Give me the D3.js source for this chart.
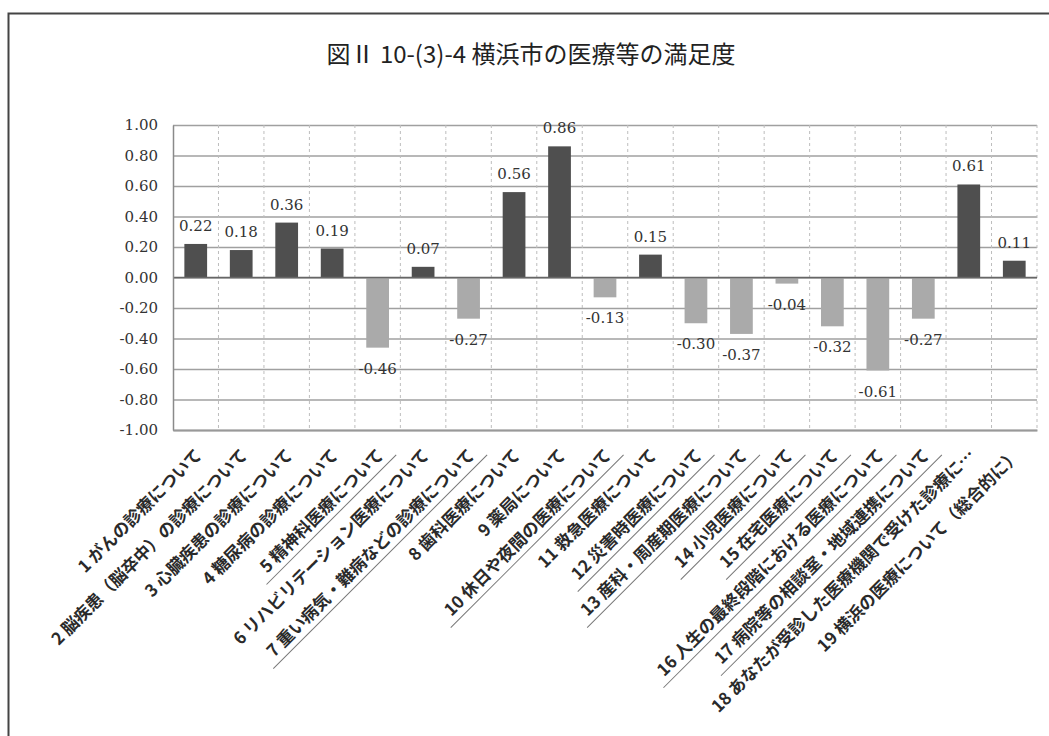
<!DOCTYPE html>
<html>
<head>
<meta charset="utf-8">
<script src="https://cdn.jsdelivr.net/npm/d3@7"></script>
<style>
  body { margin: 0; background: #fff; }
  svg { display: block; }
</style>
</head>
<body>
<svg id="chart" width="1049" height="736"></svg>
<script>
// 図Ⅱ 10-(3)-4 横浜市の医療等の満足度
var title = "図Ⅱ 10-(3)-4 横浜市の医療等の満足度";

var categories = [
  "1 がんの診療について",
  "2 脳疾患（脳卒中）の診療について",
  "3 心臓疾患の診療について",
  "4 糖尿病の診療について",
  "5 精神科医療について",
  "6 リハビリテーション医療について",
  "7 重い病気・難病などの診療について",
  "8 歯科医療について",
  "9 薬局について",
  "10 休日や夜間の医療について",
  "11 救急医療について",
  "12 災害時医療について",
  "13 産科・周産期医療について",
  "14 小児医療について",
  "15 在宅医療について",
  "16 人生の最終段階における医療について",
  "17 病院等の相談室・地域連携について",
  "18 あなたが受診した医療機関で受けた診療に…",
  "19 横浜の医療について（総合的に）"
];

var values = [0.22, 0.18, 0.36, 0.19, -0.46, 0.07, -0.27, 0.56, 0.86, -0.13,
              0.15, -0.30, -0.37, -0.04, -0.32, -0.61, -0.27, 0.61, 0.11];

var yTicks = [1.0, 0.8, 0.6, 0.4, 0.2, 0.0, -0.2, -0.4, -0.6, -0.8, -1.0];

var data = categories.map(function(c, i) { return { name: c, value: values[i] }; });

var svg = d3.select("#chart");
var margin = { left: 173, right: 12, top: 125, bottom: 306 };
var width = 1049, height = 736;

// hyphen minus like the original (d3 uses U+2212 by default)
var fmt = d3.formatLocale({ decimal: ".", thousands: ",", grouping: [3], currency: ["", ""], minus: "-" }).format(".2f");

var x = d3.scaleBand()
    .domain(categories)
    .range([margin.left, width - margin.right])
    .paddingInner(0.5)
    .paddingOuter(0.25);

var y = d3.scaleLinear()
    .domain([-1, 1])
    .range([height - margin.bottom, margin.top]);

// outer frame, runs off the right and bottom edge
svg.append("rect")
    .attr("x", 8.5).attr("y", 13.5)
    .attr("width", 1100).attr("height", 800)
    .attr("fill", "none")
    .attr("stroke", "#444")
    .attr("stroke-width", 2);

svg.append("text")
    .attr("x", 531)
    .attr("y", 52)
    .attr("text-anchor", "middle")
    .attr("dominant-baseline", "central")
    .attr("font-family", "'Noto Sans CJK JP', sans-serif")
    .attr("font-size", "24px")
    .attr("fill", "#222")
    .text(title);

// horizontal grid
svg.append("g")
    .attr("transform", "translate(" + margin.left + ",0)")
    .call(d3.axisLeft(y).tickValues(yTicks).tickSize(-(width - margin.left - margin.right)).tickFormat(""))
    .call(function(g) {
        g.select(".domain").remove();
        g.selectAll("line").attr("stroke", "#a0a0a0").attr("stroke-width", 1.5);
    });

// vertical dashed grid at category boundaries
var step = x.step();
svg.append("g")
    .selectAll("line")
    .data(categories)
    .enter()
    .append("line")
    .attr("x1", function(d) { return x(d) - step * 0.25 + step; })
    .attr("x2", function(d) { return x(d) - step * 0.25 + step; })
    .attr("y1", y(1))
    .attr("y2", y(-1))
    .attr("stroke", "#bdbdbd")
    .attr("stroke-dasharray", "3,3");

// bars
svg.append("g")
    .selectAll("rect")
    .data(data)
    .enter()
    .append("rect")
    .attr("x", function(d) { return x(d.name); })
    .attr("width", x.bandwidth())
    .attr("y", function(d) { return y(Math.max(0, d.value)); })
    .attr("height", function(d) { return Math.abs(y(d.value) - y(0)); })
    .attr("fill", function(d) { return d.value >= 0 ? "#4f4f4f" : "#aaaaaa"; });

// zero line
svg.append("line")
    .attr("x1", margin.left).attr("x2", width - margin.right)
    .attr("y1", y(0)).attr("y2", y(0))
    .attr("stroke", "#666")
    .attr("stroke-width", 1.5);

// value labels
svg.append("g")
    .selectAll("text")
    .data(data)
    .enter()
    .append("text")
    .attr("x", function(d) { return x(d.name) + x.bandwidth() / 2; })
    .attr("y", function(d) { return d.value >= 0 ? y(d.value) - 18 : y(d.value) + 21; })
    .attr("text-anchor", "middle")
    .attr("dominant-baseline", "central")
    .attr("font-family", "'DejaVu Serif', serif")
    .attr("font-size", "15px")
    .attr("fill", "#333")
    .text(function(d) { return fmt(d.value); });

// y axis
svg.append("g")
    .attr("transform", "translate(" + margin.left + ",0)")
    .call(d3.axisLeft(y).tickValues(yTicks).tickSize(0).tickPadding(15).tickFormat(fmt))
    .call(function(g) {
        g.select(".domain").attr("stroke", "#8a8a8a").attr("stroke-width", 1.5);
        g.selectAll("text")
            .attr("font-family", "'DejaVu Serif', serif")
            .attr("font-size", "15px")
            .attr("fill", "#333");
    });

// x axis with rotated labels
var xAxis = svg.append("g")
    .attr("transform", "translate(0," + y(-1) + ")")
    .call(d3.axisBottom(x).tickSize(0))
    .call(function(g) {
        g.select(".domain").attr("stroke", "#999").attr("stroke-width", 2);
        g.selectAll("text")
            .attr("x", 0)
            .attr("y", 0)
            .attr("dy", "0.35em")
            .attr("transform", "translate(3,22) rotate(-45)")
            .attr("text-anchor", "end")
            .attr("font-family", "'Noto Sans CJK JP', sans-serif")
            .attr("font-weight", "bold")
            .attr("font-size", "17px")
            .attr("fill", "#2a2a2a");
    });

// underline the items with negative values
xAxis.selectAll(".tick").each(function(d, i) {
    if (values[i] >= 0) return;
    var t = d3.select(this).select("text");
    var len = t.node().getComputedTextLength();
    d3.select(this).append("line")
        .attr("transform", "translate(3,22) rotate(-45)")
        .attr("x1", -len - 8).attr("x2", 9)
        .attr("y1", 13).attr("y2", 13)
        .attr("stroke", "#777")
        .attr("stroke-width", 1);
});
</script>
</body>
</html>
